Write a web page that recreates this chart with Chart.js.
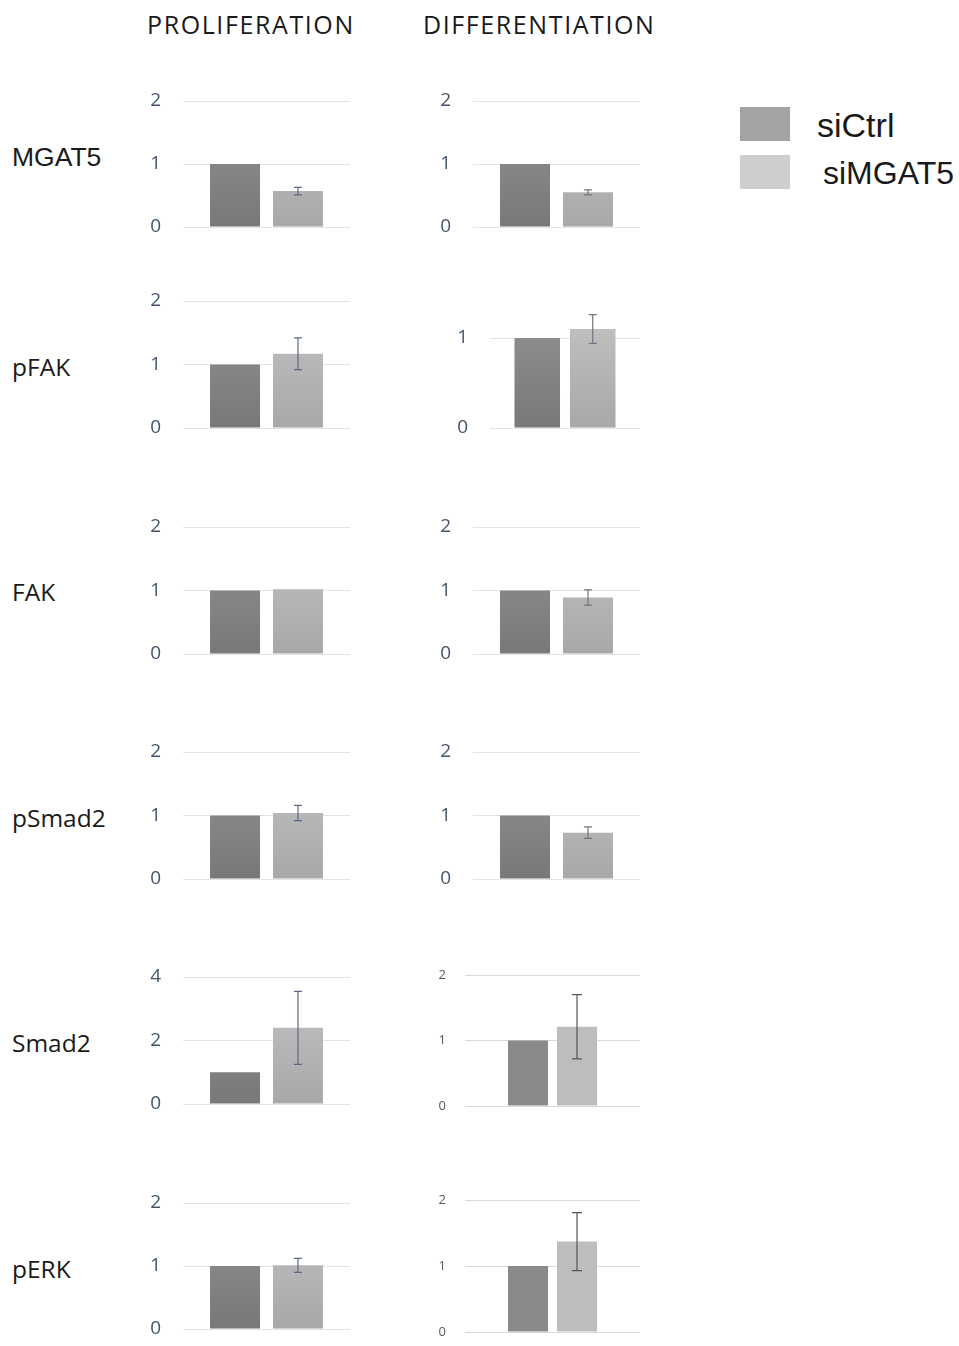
<!DOCTYPE html>
<html lang="en">
<head>
  <meta charset="UTF-8">
  <title>PROLIFERATION / DIFFERENTIATION</title>
  <style>
    html, body { margin: 0; padding: 0; background: #fff; }
    #wrap { position: relative; width: 959px; height: 1346px; overflow: hidden; }
    .col-title, .row-name, .lg-text {
      position: absolute;
      white-space: nowrap;
      color: #1a1a1a;
      transform: translateY(-50%);
    }
    .col-title { font-family: 'Open Sans', sans-serif; font-size: 25px; letter-spacing: 1.6px; }
    .row-name { left: 12px; font-family: 'Open Sans', sans-serif; font-size: 24.5px; }
    .row-name.arial { font-family: 'Liberation Sans', Arial, sans-serif; font-size: 26.5px; }
    .lg-box { position: absolute; left: 740px; width: 50px; height: 34px; }
    .lg-text { font-family: 'Liberation Sans', Arial, sans-serif; font-size: 32px; }
    canvas { position: absolute; }
  </style>
</head>
<body>
  <div id="wrap">
    <div class="col-title" style="left:147px; top:24px;">PROLIFERATION</div>
    <div class="col-title" style="left:423px; top:24px;">DIFFERENTIATION</div>

    <!-- legend -->
    <div class="lg-box" style="top:107px; background:#a3a3a3;"></div>
    <div class="lg-text" style="left:817px; top:125px; font-size:34px;">siCtrl</div>
    <div class="lg-box" style="top:155px; background:#cdcdcd;"></div>
    <div class="lg-text" style="left:823px; top:173px;">siMGAT5</div>
  </div>

  <script src="https://cdn.jsdelivr.net/npm/chart.js@4.4.1/dist/chart.umd.min.js"></script>
  <script>
    // data
    const rowLabels = ['MGAT5', 'pFAK', 'FAK', 'pSmad2', 'Smad2', 'pERK'];
    const groups = ['siCtrl', 'siMGAT5'];

    const prolifCtrl = [1, 1, 1, 1, 1, 1];
    const prolifKd = [0.57, 1.17, 1.02, 1.04, 2.4, 1.01];
    const prolifKdErr = [0.06, 0.25, 0, 0.12, 1.15, 0.11];
    const prolifMax = [2, 2, 2, 2, 4, 2];
    const prolifStep = [1, 1, 1, 1, 2, 1];

    const diffCtrl = [1, 1, 1, 1, 1, 1];
    const diffKd = [0.55, 1.1, 0.89, 0.73, 1.21, 1.37];
    const diffKdErr = [0.04, 0.16, 0.12, 0.09, 0.49, 0.44];
    const diffMax = [2, 1.4, 2, 2, 2, 2];
    const diffStep = [1, 1, 1, 1, 1, 1];

    // layout of every small panel (plot area in page px)
    const leftCol = [
      { top: 101, zero: 227 },
      { top: 301, zero: 428 },
      { top: 527, zero: 654 },
      { top: 752, zero: 879 },
      { top: 977, zero: 1104 },
      { top: 1203, zero: 1329 }
    ];
    const rightCol = [
      { top: 101, zero: 227, left: 473, cat: 0.754, bar: 0.794 },
      { top: 302, zero: 428, left: 490, cat: 0.74, bar: 0.82 },
      { top: 527, zero: 654, left: 473, cat: 0.754, bar: 0.794 },
      { top: 752, zero: 879, left: 473, cat: 0.754, bar: 0.794 },
      { top: 975, zero: 1106, left: 465, cat: 0.56, bar: 0.816, small: true },
      { top: 1200, zero: 1332, left: 465, cat: 0.56, bar: 0.816, small: true }
    ];
    const rowNameY = [157, 366, 591, 817, 1042, 1268];

    const wrap = document.getElementById('wrap');

    rowLabels.forEach((name, i) => {
      const d = document.createElement('div');
      d.className = 'row-name' + (i === 0 ? ' arial' : '');
      d.style.top = rowNameY[i] + 'px';
      d.textContent = name;
      wrap.appendChild(d);
    });

    function vGrad(ctx, c1, c2) {
      const area = ctx.chart.chartArea;
      if (!area) return c1;
      const g = ctx.chart.ctx.createLinearGradient(0, area.top, 0, area.bottom);
      g.addColorStop(0, c1);
      g.addColorStop(1, c2);
      return g;
    }

    // error bar plugin
    const errorBars = {
      id: 'errorBars',
      afterDatasetsDraw(chart, args, opts) {
        const c = chart.ctx;
        const y = chart.scales.y;
        chart.data.datasets.forEach((ds, di) => {
          if (!ds.errors) return;
          const meta = chart.getDatasetMeta(di);
          meta.data.forEach((el, k) => {
            const e = ds.errors[k];
            if (!e) return;
            const v = ds.data[k];
            const yt = y.getPixelForValue(v + e);
            const yb = y.getPixelForValue(v - e);
            c.save();
            c.strokeStyle = opts.color;
            c.lineWidth = 1.2;
            c.beginPath();
            c.moveTo(el.x, yt); c.lineTo(el.x, yb);
            c.moveTo(el.x - opts.cap, yt); c.lineTo(el.x + opts.cap, yt);
            c.moveTo(el.x - opts.cap, yb); c.lineTo(el.x + opts.cap, yb);
            c.stroke();
            c.restore();
          });
        });
      }
    };

    const PAD = 16;
    const AXW = 40;

    function makePanel(name, ctrl, kd, err, max, step, geo) {
      const left = geo.left, right = geo.left >= 400 ? 640 : 350;
      const small = !!geo.small;
      const canvas = document.createElement('canvas');
      const w = right - left + AXW + 2;
      const h = geo.zero - geo.top + PAD * 2;
      canvas.width = w; canvas.height = h;
      canvas.style.left = (left - AXW) + 'px';
      canvas.style.top = (geo.top - PAD) + 'px';
      canvas.style.width = w + 'px';
      canvas.style.height = h + 'px';
      wrap.appendChild(canvas);

      const flat = small;
      new Chart(canvas, {
        type: 'bar',
        plugins: [errorBars],
        data: {
          labels: [name],
          datasets: [
            {
              label: groups[0],
              data: [ctrl],
              backgroundColor: flat ? '#8a8a8a' : (ctx) => vGrad(ctx, '#949494', '#787878'),
              categoryPercentage: geo.cat,
              barPercentage: geo.bar
            },
            {
              label: groups[1],
              data: [kd],
              errors: [err],
              backgroundColor: flat ? '#bdbdbd' : (ctx) => vGrad(ctx, '#c4c4c4', '#a8a8a8'),
              categoryPercentage: geo.cat,
              barPercentage: geo.bar
            }
          ]
        },
        options: {
          responsive: false,
          animation: false,
          layout: { padding: { top: PAD, bottom: PAD, left: 0, right: 2 } },
          plugins: {
            legend: { display: false },
            tooltip: { enabled: false },
            errorBars: {
              color: small ? '#555555' : (geo.left >= 400 ? '#6f7480' : '#5a6a86'),
              cap: small ? 5 : 4
            }
          },
          scales: {
            x: { display: false },
            y: {
              min: 0,
              max: max,
              afterFit(scale) {
                scale.width = AXW;
                scale.paddingTop = 0;
                scale.paddingBottom = 0;
              },
              border: { display: false },
              grid: {
                color: small ? '#d9d9d9' : '#e4e4e4',
                drawTicks: false
              },
              ticks: {
                stepSize: step,
                includeBounds: false,
                padding: small ? 19 : 22,
                color: small ? '#595959' : '#44546a',
                font: { family: "'Open Sans', sans-serif", size: small ? 13 : 19 }
              }
            }
          }
        }
      });
    }

    rowLabels.forEach((name, i) => {
      makePanel(name, prolifCtrl[i], prolifKd[i], prolifKdErr[i], prolifMax[i], prolifStep[i],
        Object.assign({ left: 183, cat: 0.754, bar: 0.794 }, leftCol[i]));
      makePanel(name, diffCtrl[i], diffKd[i], diffKdErr[i], diffMax[i], diffStep[i], rightCol[i]);
    });
  </script>
</body>
</html>
